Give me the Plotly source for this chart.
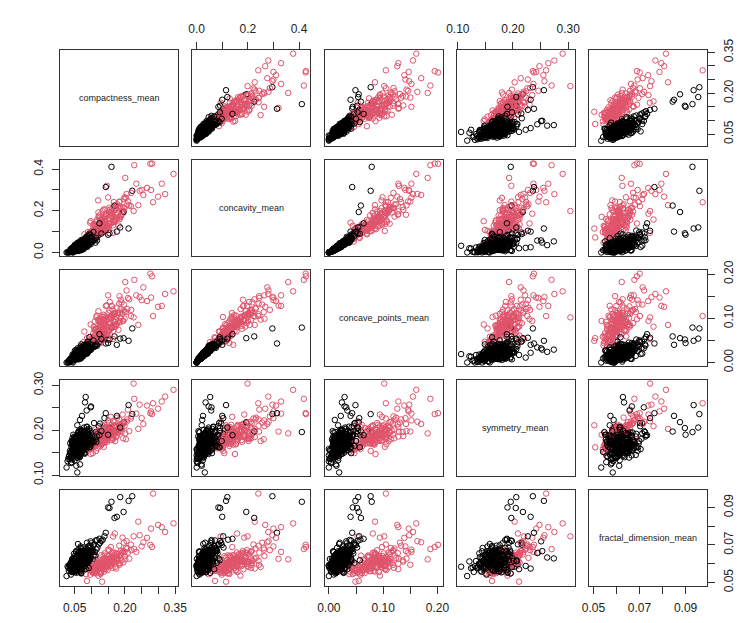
import plotly.graph_objects as go

var_names = ["compactness_mean", "concavity_mean", "concave_points_mean",
             "symmetry_mean", "fractal_dimension_mean"]

# benign (B)
compactness_b = [
    0.062, 0.048, 0.085, 0.071, 0.039, 0.094, 0.056, 0.067, 0.113, 0.052,
    0.078, 0.044, 0.059, 0.091, 0.069, 0.035, 0.083, 0.105, 0.061, 0.073,
    0.047, 0.088, 0.064, 0.054, 0.126, 0.076, 0.041, 0.098, 0.066, 0.058,
    0.081, 0.050, 0.072, 0.160, 0.063, 0.087, 0.045, 0.095, 0.053, 0.070,
    0.102, 0.060, 0.037, 0.079, 0.068, 0.143, 0.049, 0.084, 0.057, 0.074,
    0.065, 0.092, 0.043, 0.077, 0.118, 0.055, 0.069, 0.026, 0.086, 0.062,
    0.222, 0.051, 0.080, 0.064, 0.097, 0.046, 0.075, 0.058, 0.108, 0.071,
    0.039, 0.066, 0.089, 0.054, 0.072, 0.134, 0.048, 0.083, 0.061, 0.196,
    0.076, 0.059, 0.042, 0.093, 0.067, 0.052, 0.081, 0.070, 0.031, 0.099,
    0.063, 0.085, 0.050, 0.074, 0.057, 0.169, 0.068, 0.045, 0.090, 0.078,
    0.055, 0.071, 0.104, 0.060, 0.038, 0.082, 0.065, 0.122, 0.049, 0.073,
    0.087, 0.053, 0.068, 0.041, 0.096, 0.061, 0.154, 0.076, 0.058, 0.066,
    0.044, 0.079, 0.062, 0.110, 0.056, 0.072, 0.034, 0.088, 0.069, 0.051,
    0.093, 0.064, 0.077, 0.047, 0.139, 0.059, 0.084, 0.070, 0.211, 0.054,
    0.067, 0.040, 0.081, 0.062, 0.100, 0.074, 0.050, 0.058, 0.186, 0.089,
    0.071, 0.056, 0.029, 0.086, 0.065, 0.115, 0.046, 0.078, 0.060, 0.068,
    0.053, 0.095, 0.073, 0.063, 0.042, 0.130, 0.080, 0.057, 0.066, 0.176,
    0.048, 0.075, 0.091, 0.061, 0.069, 0.036, 0.084, 0.107, 0.055, 0.150,
    0.058, 0.072, 0.049, 0.083, 0.064, 0.041, 0.077, 0.055, 0.091, 0.068,
    0.046, 0.061, 0.079, 0.052, 0.070, 0.088, 0.057, 0.043, 0.066, 0.101,
    0.074, 0.050, 0.062, 0.095, 0.054, 0.081, 0.045, 0.069, 0.060, 0.086,
    0.039, 0.067, 0.076, 0.053, 0.112, 0.059, 0.072, 0.048, 0.084, 0.063,
    0.056, 0.080, 0.044, 0.070, 0.097, 0.051, 0.065, 0.075, 0.033, 0.087,
    0.061, 0.047, 0.073, 0.058, 0.082, 0.068, 0.124, 0.054, 0.078, 0.042,
    0.071, 0.089, 0.052, 0.064, 0.046, 0.077, 0.059, 0.098, 0.066, 0.050,
    0.083, 0.057, 0.069, 0.040, 0.074, 0.062, 0.106, 0.055, 0.080, 0.067,
    0.048, 0.092, 0.060, 0.073, 0.053, 0.085, 0.044, 0.070, 0.117, 0.058,
    0.065, 0.051, 0.078, 0.037, 0.088, 0.063, 0.072, 0.056, 0.094, 0.069,
]
concavity_b = [
    0.025, 0.012, 0.047, 0.030, 0.006, 0.061, 0.019, 0.034, 0.072, 0.015,
    0.038, 0.009, 0.028, 0.044, 0.022, 0.002, 0.053, 0.080, 0.017, 0.041,
    0.020, 0.035, 0.031, 0.011, 0.096, 0.027, 0.004, 0.058, 0.039, 0.024,
    0.045, 0.014, 0.036, 0.411, 0.021, 0.066, 0.000, 0.049, 0.026, 0.029,
    0.064, 0.030, 0.003, 0.042, 0.018, 0.314, 0.016, 0.039, 0.023, 0.050,
    0.033, 0.070, 0.010, 0.026, 0.105, 0.022, 0.040, 0.000, 0.057, 0.013,
    0.296, 0.018, 0.048, 0.024, 0.075, 0.008, 0.037, 0.032, 0.088, 0.043,
    0.011, 0.027, 0.055, 0.019, 0.046, 0.123, 0.021, 0.030, 0.036, 0.194,
    0.052, 0.015, 0.013, 0.038, 0.044, 0.028, 0.060, 0.020, 0.001, 0.047,
    0.037, 0.029, 0.024, 0.033, 0.012, 0.225, 0.051, 0.014, 0.073, 0.025,
    0.026, 0.022, 0.053, 0.041, 0.007, 0.063, 0.016, 0.084, 0.010, 0.048,
    0.040, 0.031, 0.028, 0.009, 0.068, 0.023, 0.092, 0.055, 0.036, 0.019,
    0.017, 0.034, 0.046, 0.059, 0.025, 0.039, 0.000, 0.078, 0.030, 0.013,
    0.082, 0.020, 0.044, 0.016, 0.104, 0.034, 0.050, 0.027, 0.115, 0.029,
    0.026, 0.005, 0.035, 0.043, 0.056, 0.031, 0.019, 0.010, 0.120, 0.062,
    0.054, 0.018, 0.000, 0.042, 0.028, 0.069, 0.022, 0.047, 0.035, 0.015,
    0.008, 0.053, 0.024, 0.032, 0.012, 0.091, 0.064, 0.027, 0.045, 0.100,
    0.023, 0.040, 0.050, 0.014, 0.037, 0.004, 0.071, 0.060, 0.020, 0.085,
    0.031, 0.019, 0.006, 0.058, 0.015, 0.012, 0.029, 0.038, 0.041, 0.049,
    0.021, 0.008, 0.052, 0.029, 0.034, 0.027, 0.014, 0.001, 0.045, 0.074,
    0.018, 0.030, 0.040, 0.071, 0.009, 0.036, 0.017, 0.053, 0.026, 0.064,
    0.003, 0.038, 0.061, 0.016, 0.047, 0.033, 0.025, 0.027, 0.051, 0.011,
    0.024, 0.044, 0.015, 0.011, 0.086, 0.020, 0.046, 0.035, 0.004, 0.033,
    0.039, 0.010, 0.057, 0.020, 0.028, 0.031, 0.140, 0.035, 0.062, 0.018,
    0.036, 0.079, 0.005, 0.043, 0.026, 0.016, 0.047, 0.039, 0.022, 0.032,
    0.069, 0.013, 0.042, 0.019, 0.054, 0.007, 0.098, 0.029, 0.023, 0.050,
    0.009, 0.048, 0.044, 0.027, 0.033, 0.075, 0.023, 0.060, 0.058, 0.017,
    0.025, 0.037, 0.040, 0.014, 0.052, 0.048, 0.021, 0.030, 0.090, 0.011,
]
concave_points_b = [
    0.016, 0.009, 0.027, 0.019, 0.005, 0.031, 0.013, 0.020, 0.041, 0.010,
    0.022, 0.007, 0.018, 0.025, 0.014, 0.002, 0.029, 0.044, 0.012, 0.026,
    0.015, 0.024, 0.017, 0.008, 0.047, 0.021, 0.004, 0.032, 0.027, 0.014,
    0.030, 0.011, 0.020, 0.079, 0.016, 0.037, 0.000, 0.028, 0.018, 0.023,
    0.036, 0.021, 0.003, 0.024, 0.013, 0.043, 0.011, 0.029, 0.015, 0.033,
    0.019, 0.039, 0.008, 0.020, 0.052, 0.017, 0.025, 0.000, 0.034, 0.010,
    0.077, 0.012, 0.031, 0.018, 0.043, 0.006, 0.023, 0.019, 0.048, 0.027,
    0.009, 0.020, 0.030, 0.014, 0.028, 0.058, 0.015, 0.024, 0.021, 0.055,
    0.032, 0.010, 0.009, 0.026, 0.024, 0.019, 0.035, 0.016, 0.001, 0.029,
    0.020, 0.022, 0.017, 0.021, 0.008, 0.059, 0.028, 0.012, 0.040, 0.019,
    0.017, 0.016, 0.034, 0.023, 0.006, 0.038, 0.012, 0.046, 0.008, 0.031,
    0.027, 0.018, 0.019, 0.007, 0.035, 0.015, 0.052, 0.030, 0.022, 0.013,
    0.011, 0.025, 0.026, 0.036, 0.018, 0.022, 0.000, 0.042, 0.020, 0.009,
    0.045, 0.014, 0.028, 0.012, 0.056, 0.023, 0.026, 0.017, 0.049, 0.021,
    0.015, 0.004, 0.024, 0.027, 0.033, 0.018, 0.013, 0.008, 0.054, 0.038,
    0.034, 0.012, 0.000, 0.022, 0.021, 0.041, 0.016, 0.030, 0.019, 0.011,
    0.007, 0.030, 0.015, 0.021, 0.009, 0.053, 0.037, 0.018, 0.026, 0.040,
    0.016, 0.028, 0.034, 0.010, 0.024, 0.003, 0.039, 0.035, 0.014, 0.044,
    0.024, 0.017, 0.008, 0.029, 0.014, 0.007, 0.018, 0.028, 0.030, 0.026,
    0.013, 0.009, 0.033, 0.015, 0.026, 0.021, 0.010, 0.002, 0.022, 0.038,
    0.016, 0.014, 0.029, 0.035, 0.008, 0.025, 0.009, 0.027, 0.019, 0.042,
    0.004, 0.025, 0.033, 0.013, 0.037, 0.017, 0.022, 0.014, 0.031, 0.010,
    0.019, 0.033, 0.011, 0.012, 0.041, 0.012, 0.023, 0.026, 0.005, 0.020,
    0.021, 0.006, 0.036, 0.017, 0.023, 0.015, 0.064, 0.024, 0.040, 0.009,
    0.028, 0.047, 0.006, 0.020, 0.016, 0.015, 0.032, 0.029, 0.011, 0.022,
    0.034, 0.011, 0.030, 0.010, 0.026, 0.007, 0.050, 0.018, 0.020, 0.036,
    0.010, 0.029, 0.020, 0.023, 0.016, 0.033, 0.018, 0.041, 0.038, 0.008,
    0.013, 0.027, 0.023, 0.008, 0.039, 0.025, 0.012, 0.022, 0.057, 0.009,
]
symmetry_b = [
    0.168, 0.152, 0.189, 0.175, 0.141, 0.203, 0.160, 0.181, 0.196, 0.147,
    0.172, 0.163, 0.139, 0.195, 0.158, 0.137, 0.274, 0.188, 0.165, 0.179,
    0.155, 0.166, 0.184, 0.144, 0.215, 0.170, 0.129, 0.251, 0.173, 0.162,
    0.182, 0.171, 0.154, 0.196, 0.176, 0.208, 0.158, 0.181, 0.150, 0.191,
    0.176, 0.159, 0.148, 0.198, 0.167, 0.238, 0.146, 0.169, 0.178, 0.161,
    0.186, 0.162, 0.135, 0.157, 0.192, 0.174, 0.200, 0.117, 0.244, 0.170,
    0.236, 0.164, 0.177, 0.143, 0.186, 0.161, 0.183, 0.106, 0.216, 0.168,
    0.152, 0.171, 0.197, 0.166, 0.150, 0.189, 0.178, 0.163, 0.193, 0.218,
    0.185, 0.145, 0.169, 0.174, 0.202, 0.158, 0.165, 0.180, 0.136, 0.253,
    0.163, 0.178, 0.133, 0.194, 0.172, 0.197, 0.156, 0.175, 0.183, 0.149,
    0.177, 0.162, 0.171, 0.187, 0.150, 0.193, 0.140, 0.209, 0.166, 0.174,
    0.159, 0.184, 0.180, 0.146, 0.170, 0.155, 0.205, 0.192, 0.168, 0.124,
    0.157, 0.181, 0.173, 0.185, 0.153, 0.199, 0.144, 0.176, 0.164, 0.160,
    0.190, 0.168, 0.160, 0.172, 0.227, 0.189, 0.173, 0.154, 0.256, 0.179,
    0.176, 0.138, 0.262, 0.161, 0.181, 0.167, 0.170, 0.151, 0.206, 0.188,
    0.171, 0.163, 0.131, 0.184, 0.191, 0.174, 0.149, 0.206, 0.157, 0.179,
    0.165, 0.177, 0.187, 0.152, 0.142, 0.198, 0.169, 0.182, 0.174, 0.232,
    0.146, 0.166, 0.179, 0.185, 0.159, 0.154, 0.195, 0.173, 0.121, 0.190,
    0.171, 0.158, 0.186, 0.165, 0.143, 0.176, 0.192, 0.161, 0.180, 0.154,
    0.167, 0.149, 0.183, 0.173, 0.160, 0.201, 0.139, 0.156, 0.188, 0.175,
    0.153, 0.181, 0.169, 0.199, 0.164, 0.148, 0.177, 0.190, 0.158, 0.207,
    0.127, 0.174, 0.162, 0.185, 0.179, 0.166, 0.232, 0.151, 0.170, 0.182,
    0.178, 0.157, 0.168, 0.196, 0.163, 0.184, 0.147, 0.175, 0.141, 0.193,
    0.162, 0.180, 0.155, 0.211, 0.171, 0.145, 0.189, 0.167, 0.159, 0.176,
    0.183, 0.165, 0.150, 0.172, 0.190, 0.161, 0.179, 0.168, 0.223, 0.146,
    0.174, 0.187, 0.158, 0.164, 0.181, 0.198, 0.176, 0.152, 0.166, 0.185,
    0.161, 0.170, 0.194, 0.156, 0.177, 0.167, 0.183, 0.149, 0.186, 0.173,
    0.140, 0.179, 0.163, 0.171, 0.168, 0.189, 0.157, 0.184, 0.162, 0.195,
]
fractal_b = [
    0.0578, 0.0629, 0.0611, 0.0662, 0.0598, 0.0637, 0.0552, 0.0611, 0.0724, 0.0581,
    0.0668, 0.0576, 0.0655, 0.0590, 0.0613, 0.0585, 0.0628, 0.0667, 0.0626, 0.0594,
    0.0603, 0.0622, 0.0579, 0.0666, 0.0712, 0.0634, 0.0556, 0.0719, 0.0596, 0.0601,
    0.0614, 0.0561, 0.0648, 0.0930, 0.0635, 0.0597, 0.0591, 0.0631, 0.0612, 0.0624,
    0.0679, 0.0583, 0.0569, 0.0641, 0.0624, 0.0765, 0.0617, 0.0681, 0.0594, 0.0643,
    0.0588, 0.0694, 0.0578, 0.0583, 0.0686, 0.0636, 0.0603, 0.0534, 0.0657, 0.0616,
    0.0960, 0.0575, 0.0659, 0.0631, 0.0684, 0.0602, 0.0611, 0.0584, 0.0702, 0.0641,
    0.0542, 0.0637, 0.0638, 0.0619, 0.0599, 0.0728, 0.0579, 0.0662, 0.0618, 0.0876,
    0.0607, 0.0627, 0.0566, 0.0671, 0.0583, 0.0594, 0.0651, 0.0574, 0.0578, 0.0667,
    0.0661, 0.0575, 0.0614, 0.0619, 0.0565, 0.0844, 0.0656, 0.0557, 0.0642, 0.0649,
    0.0631, 0.0609, 0.0623, 0.0641, 0.0604, 0.0654, 0.0597, 0.0703, 0.0569, 0.0622,
    0.0610, 0.0582, 0.0628, 0.0613, 0.0696, 0.0600, 0.0897, 0.0593, 0.0639, 0.0576,
    0.0625, 0.0627, 0.0636, 0.0662, 0.0621, 0.0588, 0.0592, 0.0674, 0.0615, 0.0563,
    0.0654, 0.0653, 0.0602, 0.0609, 0.0746, 0.0570, 0.0616, 0.0666, 0.0935, 0.0623,
    0.0578, 0.0600, 0.0633, 0.0632, 0.0709, 0.0607, 0.0617, 0.0575, 0.0955, 0.0665,
    0.0655, 0.0565, 0.0586, 0.0621, 0.0651, 0.0676, 0.0614, 0.0613, 0.0629, 0.0599,
    0.0618, 0.0624, 0.0592, 0.0644, 0.0606, 0.0721, 0.0606, 0.0637, 0.0590, 0.0850,
    0.0572, 0.0650, 0.0618, 0.0626, 0.0603, 0.0595, 0.0670, 0.0647, 0.0612, 0.0900,
    0.0631, 0.0584, 0.0612, 0.0665, 0.0557, 0.0598, 0.0620, 0.0573, 0.0648, 0.0692,
    0.0560, 0.0639, 0.0604, 0.0587, 0.0676, 0.0615, 0.0593, 0.0625, 0.0566, 0.0658,
    0.0601, 0.0641, 0.0570, 0.0629, 0.0663, 0.0589, 0.0608, 0.0551, 0.0705, 0.0617,
    0.0580, 0.0559, 0.0687, 0.0622, 0.0644, 0.0596, 0.0574, 0.0653, 0.0606, 0.0637,
    0.0614, 0.0669, 0.0590, 0.0548, 0.0627, 0.0603, 0.0581, 0.0635, 0.0562, 0.0712,
    0.0592, 0.0626, 0.0657, 0.0571, 0.0601, 0.0684, 0.0733, 0.0595, 0.0611, 0.0578,
    0.0646, 0.0605, 0.0583, 0.0632, 0.0555, 0.0619, 0.0672, 0.0660, 0.0588, 0.0609,
    0.0571, 0.0624, 0.0599, 0.0565, 0.0652, 0.0582, 0.0699, 0.0639, 0.0607, 0.0591,
    0.0616, 0.0577, 0.0640, 0.0598, 0.0569, 0.0668, 0.0603, 0.0621, 0.0726, 0.0586,
    0.0635, 0.0554, 0.0610, 0.0593, 0.0673, 0.0600, 0.0647, 0.0578, 0.0618, 0.0661,
]

# malignant (M)
compactness_m = [
    0.278, 0.079, 0.160, 0.284, 0.133, 0.170, 0.109, 0.165, 0.193, 0.240,
    0.125, 0.102, 0.146, 0.188, 0.097, 0.218, 0.131, 0.154, 0.112, 0.176,
    0.345, 0.139, 0.087, 0.120, 0.201, 0.158, 0.104, 0.143, 0.276, 0.117,
    0.181, 0.128, 0.094, 0.150, 0.226, 0.136, 0.168, 0.108, 0.197, 0.141,
    0.115, 0.310, 0.148, 0.122, 0.172, 0.084, 0.155, 0.132, 0.209, 0.099,
    0.163, 0.137, 0.250, 0.119, 0.145, 0.185, 0.106, 0.129, 0.234, 0.152,
    0.090, 0.174, 0.140, 0.281, 0.126, 0.161, 0.113, 0.195, 0.134, 0.068,
    0.147, 0.205, 0.121, 0.157, 0.101, 0.179, 0.130, 0.244, 0.142, 0.111,
    0.167, 0.124, 0.213, 0.138, 0.092, 0.153, 0.187, 0.116, 0.149, 0.299,
    0.135, 0.171, 0.107, 0.159, 0.228, 0.127, 0.144, 0.098, 0.183, 0.118,
    0.156, 0.266, 0.123, 0.190, 0.140, 0.076, 0.164, 0.132, 0.203, 0.110,
    0.143, 0.177, 0.255, 0.128, 0.151, 0.096, 0.199, 0.137, 0.166, 0.121,
    0.184, 0.114, 0.147, 0.219, 0.105, 0.162, 0.320, 0.131, 0.173, 0.139,
    0.118, 0.152, 0.134, 0.171, 0.103, 0.145, 0.126, 0.188, 0.139, 0.160,
    0.129, 0.165, 0.110, 0.142, 0.196, 0.122, 0.154, 0.136, 0.178, 0.093,
    0.147, 0.113, 0.169, 0.131, 0.207, 0.141, 0.100, 0.158, 0.124, 0.182,
    0.137, 0.174, 0.119, 0.151, 0.127, 0.192, 0.108, 0.162, 0.144, 0.133,
    0.157, 0.121, 0.185, 0.140, 0.115, 0.167, 0.128, 0.199, 0.148, 0.106,
]
concavity_m = [
    0.300, 0.087, 0.197, 0.241, 0.198, 0.158, 0.113, 0.094, 0.186, 0.227,
    0.168, 0.061, 0.320, 0.181, 0.098, 0.222, 0.112, 0.215, 0.134, 0.165,
    0.377, 0.135, 0.072, 0.250, 0.358, 0.139, 0.108, 0.183, 0.426, 0.091,
    0.129, 0.152, 0.080, 0.264, 0.199, 0.205, 0.172, 0.098, 0.256, 0.159,
    0.145, 0.330, 0.127, 0.103, 0.190, 0.047, 0.205, 0.156, 0.245, 0.075,
    0.213, 0.121, 0.300, 0.082, 0.186, 0.214, 0.127, 0.160, 0.330, 0.108,
    0.098, 0.227, 0.112, 0.427, 0.139, 0.182, 0.121, 0.200, 0.101, 0.037,
    0.124, 0.281, 0.171, 0.174, 0.092, 0.219, 0.143, 0.296, 0.109, 0.115,
    0.242, 0.132, 0.226, 0.117, 0.081, 0.196, 0.172, 0.154, 0.119, 0.268,
    0.147, 0.203, 0.136, 0.190, 0.419, 0.128, 0.121, 0.150, 0.242, 0.097,
    0.137, 0.310, 0.178, 0.218, 0.207, 0.052, 0.147, 0.115, 0.262, 0.128,
    0.184, 0.232, 0.276, 0.125, 0.138, 0.143, 0.265, 0.103, 0.157, 0.192,
    0.244, 0.104, 0.130, 0.286, 0.070, 0.175, 0.280, 0.125, 0.213, 0.148,
    0.105, 0.183, 0.121, 0.149, 0.071, 0.128, 0.158, 0.174, 0.099, 0.141,
    0.148, 0.130, 0.094, 0.176, 0.215, 0.089, 0.137, 0.162, 0.188, 0.064,
    0.112, 0.117, 0.203, 0.095, 0.230, 0.155, 0.083, 0.144, 0.108, 0.167,
    0.160, 0.157, 0.113, 0.121, 0.142, 0.198, 0.076, 0.189, 0.133, 0.104,
    0.176, 0.098, 0.161, 0.169, 0.131, 0.145, 0.119, 0.212, 0.126, 0.088,
]
concave_points_m = [
    0.147, 0.070, 0.128, 0.105, 0.104, 0.081, 0.074, 0.053, 0.094, 0.085,
    0.091, 0.038, 0.129, 0.142, 0.058, 0.105, 0.064, 0.118, 0.074, 0.087,
    0.161, 0.061, 0.055, 0.097, 0.182, 0.098, 0.047, 0.128, 0.201, 0.070,
    0.074, 0.082, 0.041, 0.152, 0.102, 0.108, 0.091, 0.052, 0.131, 0.088,
    0.102, 0.128, 0.063, 0.079, 0.081, 0.038, 0.137, 0.070, 0.146, 0.036,
    0.120, 0.073, 0.141, 0.049, 0.095, 0.112, 0.066, 0.092, 0.152, 0.071,
    0.048, 0.104, 0.087, 0.195, 0.069, 0.127, 0.057, 0.094, 0.075, 0.029,
    0.079, 0.163, 0.094, 0.102, 0.052, 0.112, 0.084, 0.148, 0.067, 0.062,
    0.109, 0.098, 0.143, 0.085, 0.039, 0.089, 0.121, 0.106, 0.051, 0.126,
    0.088, 0.110, 0.081, 0.106, 0.187, 0.044, 0.078, 0.086, 0.133, 0.061,
    0.104, 0.139, 0.076, 0.136, 0.085, 0.046, 0.107, 0.049, 0.114, 0.093,
    0.095, 0.124, 0.170, 0.066, 0.112, 0.040, 0.099, 0.103, 0.084, 0.116,
    0.150, 0.077, 0.059, 0.119, 0.057, 0.083, 0.155, 0.090, 0.097, 0.071,
    0.071, 0.098, 0.079, 0.092, 0.048, 0.083, 0.086, 0.101, 0.064, 0.077,
    0.093, 0.072, 0.061, 0.104, 0.118, 0.056, 0.088, 0.097, 0.108, 0.046,
    0.066, 0.075, 0.112, 0.058, 0.121, 0.089, 0.052, 0.080, 0.069, 0.094,
    0.096, 0.085, 0.068, 0.074, 0.081, 0.110, 0.047, 0.105, 0.079, 0.062,
    0.102, 0.063, 0.091, 0.099, 0.076, 0.084, 0.070, 0.115, 0.073, 0.054,
]
symmetry_m = [
    0.242, 0.181, 0.207, 0.260, 0.181, 0.209, 0.179, 0.220, 0.235, 0.203,
    0.184, 0.166, 0.197, 0.214, 0.158, 0.226, 0.173, 0.190, 0.202, 0.188,
    0.290, 0.212, 0.162, 0.176, 0.193, 0.230, 0.149, 0.186, 0.238, 0.171,
    0.200, 0.169, 0.178, 0.222, 0.304, 0.183, 0.196, 0.163, 0.217, 0.175,
    0.192, 0.264, 0.179, 0.185, 0.211, 0.152, 0.187, 0.198, 0.246, 0.170,
    0.182, 0.204, 0.227, 0.160, 0.193, 0.206, 0.175, 0.180, 0.237, 0.199,
    0.167, 0.185, 0.201, 0.236, 0.177, 0.213, 0.195, 0.182, 0.189, 0.163,
    0.174, 0.219, 0.190, 0.201, 0.161, 0.194, 0.168, 0.257, 0.205, 0.183,
    0.210, 0.178, 0.198, 0.172, 0.187, 0.216, 0.202, 0.169, 0.184, 0.248,
    0.195, 0.176, 0.172, 0.189, 0.270, 0.165, 0.208, 0.147, 0.224, 0.188,
    0.203, 0.255, 0.174, 0.196, 0.181, 0.156, 0.191, 0.211, 0.180, 0.177,
    0.188, 0.228, 0.214, 0.170, 0.195, 0.174, 0.209, 0.163, 0.186, 0.199,
    0.197, 0.154, 0.207, 0.231, 0.166, 0.178, 0.275, 0.192, 0.205, 0.185,
    0.185, 0.203, 0.177, 0.196, 0.168, 0.190, 0.182, 0.211, 0.174, 0.199,
    0.193, 0.181, 0.164, 0.207, 0.215, 0.171, 0.186, 0.192, 0.201, 0.158,
    0.178, 0.172, 0.218, 0.169, 0.224, 0.187, 0.160, 0.195, 0.183, 0.209,
    0.189, 0.197, 0.176, 0.184, 0.194, 0.206, 0.165, 0.200, 0.179, 0.173,
    0.198, 0.175, 0.212, 0.186, 0.170, 0.191, 0.180, 0.219, 0.188, 0.162,
]
fractal_m = [
    0.0787, 0.0567, 0.0600, 0.0974, 0.0588, 0.0761, 0.0574, 0.0745, 0.0739, 0.0824,
    0.0613, 0.0559, 0.0626, 0.0668, 0.0541, 0.0702, 0.0579, 0.0594, 0.0636, 0.0651,
    0.0815, 0.0605, 0.0508, 0.0582, 0.0623, 0.0689, 0.0551, 0.0571, 0.0701, 0.0597,
    0.0600, 0.0562, 0.0577, 0.0675, 0.0746, 0.0609, 0.0632, 0.0553, 0.0712, 0.0584,
    0.0620, 0.0795, 0.0565, 0.0590, 0.0658, 0.0544, 0.0611, 0.0599, 0.0659, 0.0586,
    0.0578, 0.0644, 0.0692, 0.0569, 0.0617, 0.0603, 0.0612, 0.0555, 0.0663, 0.0640,
    0.0595, 0.0574, 0.0631, 0.0689, 0.0602, 0.0656, 0.0548, 0.0607, 0.0577, 0.0554,
    0.0601, 0.0720, 0.0536, 0.0629, 0.0573, 0.0614, 0.0646, 0.0752, 0.0589, 0.0581,
    0.0615, 0.0603, 0.0627, 0.0558, 0.0612, 0.0672, 0.0645, 0.0566, 0.0597, 0.0807,
    0.0622, 0.0583, 0.0608, 0.0637, 0.0678, 0.0545, 0.0604, 0.0579, 0.0696, 0.0563,
    0.0587, 0.0738, 0.0596, 0.0618, 0.0655, 0.0571, 0.0609, 0.0504, 0.0684, 0.0593,
    0.0612, 0.0631, 0.0714, 0.0550, 0.0625, 0.0602, 0.0641, 0.0570, 0.0660, 0.0606,
    0.0594, 0.0561, 0.0643, 0.0672, 0.0585, 0.0619, 0.0769, 0.0580, 0.0628, 0.0599,
    0.0598, 0.0613, 0.0575, 0.0641, 0.0562, 0.0606, 0.0589, 0.0655, 0.0621, 0.0592,
    0.0607, 0.0634, 0.0551, 0.0587, 0.0668, 0.0579, 0.0616, 0.0601, 0.0627, 0.0570,
    0.0583, 0.0560, 0.0649, 0.0594, 0.0681, 0.0611, 0.0568, 0.0625, 0.0603, 0.0638,
    0.0595, 0.0622, 0.0573, 0.0608, 0.0586, 0.0659, 0.0564, 0.0617, 0.0599, 0.0580,
    0.0610, 0.0569, 0.0644, 0.0591, 0.0577, 0.0628, 0.0585, 0.0662, 0.0604, 0.0557,
]

# axis ticks (R draws every tick, labels only the ones that fit)
compactness_ticks = [0.05, 0.10, 0.15, 0.20, 0.25, 0.30, 0.35]
compactness_labels = ["0.05", "", "", "0.20", "", "", "0.35"]
concavity_ticks = [0.0, 0.1, 0.2, 0.3, 0.4]
concavity_labels = ["0.0", "", "0.2", "", "0.4"]
concave_points_ticks = [0.00, 0.05, 0.10, 0.15, 0.20]
concave_points_labels = ["0.00", "", "0.10", "", "0.20"]
symmetry_ticks = [0.10, 0.15, 0.20, 0.25, 0.30]
symmetry_labels = ["0.10", "", "0.20", "", "0.30"]
fractal_ticks = [0.05, 0.06, 0.07, 0.08, 0.09]
fractal_labels = ["0.05", "", "0.07", "", "0.09"]

b_cols = [compactness_b, concavity_b, concave_points_b, symmetry_b, fractal_b]
m_cols = [compactness_m, concavity_m, concave_points_m, symmetry_m, fractal_m]
ticks = [(compactness_ticks, compactness_labels), (concavity_ticks, concavity_labels),
         (concave_points_ticks, concave_points_labels), (symmetry_ticks, symmetry_labels),
         (fractal_ticks, fractal_labels)]
ranges = [[0.0064, 0.3584], [-0.0171, 0.4439], [-0.0080, 0.2093],
          [0.0981, 0.3119], [0.0481, 0.0993]]

RED = "#DF536B"
W, H = 746, 623
col_x0 = [52, 184.25, 316.5, 448.75, 581]
row_y0 = [42, 152, 262, 372, 482]
pw, ph = 118, 96

fig = go.Figure()
layout = {}
annotations = []
font = dict(family="Liberation Sans, Arial, sans-serif", size=12, color="#222")

for i in range(5):
    for j in range(5):
        n = i * 5 + j + 1
        sfx = "" if n == 1 else str(n)
        xa, ya = "x" + sfx, "y" + sfx

        xax = dict(domain=[col_x0[j] / W, (col_x0[j] + pw) / W], range=ranges[j],
                   anchor=ya, showgrid=False, zeroline=False, showline=True,
                   mirror=True, linecolor="#333", linewidth=1, automargin=False,
                   ticks="", showticklabels=False, fixedrange=True)
        yax = dict(domain=[1 - (row_y0[i] + ph) / H, 1 - row_y0[i] / H], range=ranges[i],
                   anchor=xa, showgrid=False, zeroline=False, showline=True,
                   mirror=True, linecolor="#333", linewidth=1, automargin=False,
                   ticks="", showticklabels=False, fixedrange=True)

        tick_style = dict(ticks="outside", ticklen=7, tickwidth=1, tickcolor="#333",
                          showticklabels=True, tickfont=font, ticklabelstandoff=4)
        if i == 0 and j % 2 == 1:
            xax.update(tick_style, side="top", tickvals=ticks[j][0], ticktext=ticks[j][1])
        if i == 4 and j % 2 == 0:
            xax.update(tick_style, side="bottom", tickvals=ticks[j][0], ticktext=ticks[j][1])
        if j == 0 and i % 2 == 1:
            yax.update(tick_style, side="left", tickvals=ticks[i][0], ticktext=ticks[i][1],
                       tickangle=-90)
        if j == 4 and i % 2 == 0:
            yax.update(tick_style, side="right", tickvals=ticks[i][0], ticktext=ticks[i][1],
                       tickangle=-90)

        layout["xaxis" + sfx] = xax
        layout["yaxis" + sfx] = yax

        if i == j:
            # empty trace so the diagonal box still gets drawn
            fig.add_trace(go.Scatter(x=[], y=[], xaxis=xa, yaxis=ya, mode="markers",
                                     showlegend=False, hoverinfo="skip"))
            annotations.append(dict(text=var_names[i], xref=xa + " domain", yref=ya + " domain",
                                    x=0.5, y=0.5, showarrow=False,
                                    font=dict(family="Liberation Sans, Arial, sans-serif",
                                              size=9, color="#222")))
            continue

        for cols, color, sl in [(m_cols, RED, slice(0, 90)), (b_cols, "black", slice(0, 140)),
                                (m_cols, RED, slice(90, None)), (b_cols, "black", slice(140, None))]:
            fig.add_trace(go.Scatter(
                x=cols[j][sl], y=cols[i][sl], xaxis=xa, yaxis=ya, mode="markers",
                marker=dict(symbol="circle-open", size=5.5, color=color, line=dict(width=1)),
                showlegend=False, hoverinfo="skip"))

fig.update_layout(**layout)
fig.update_layout(annotations=annotations, width=W, height=H,
                  margin=dict(l=0, r=0, t=0, b=0),
                  paper_bgcolor="white", plot_bgcolor="white", showlegend=False)

fig.write_html("out.html")
